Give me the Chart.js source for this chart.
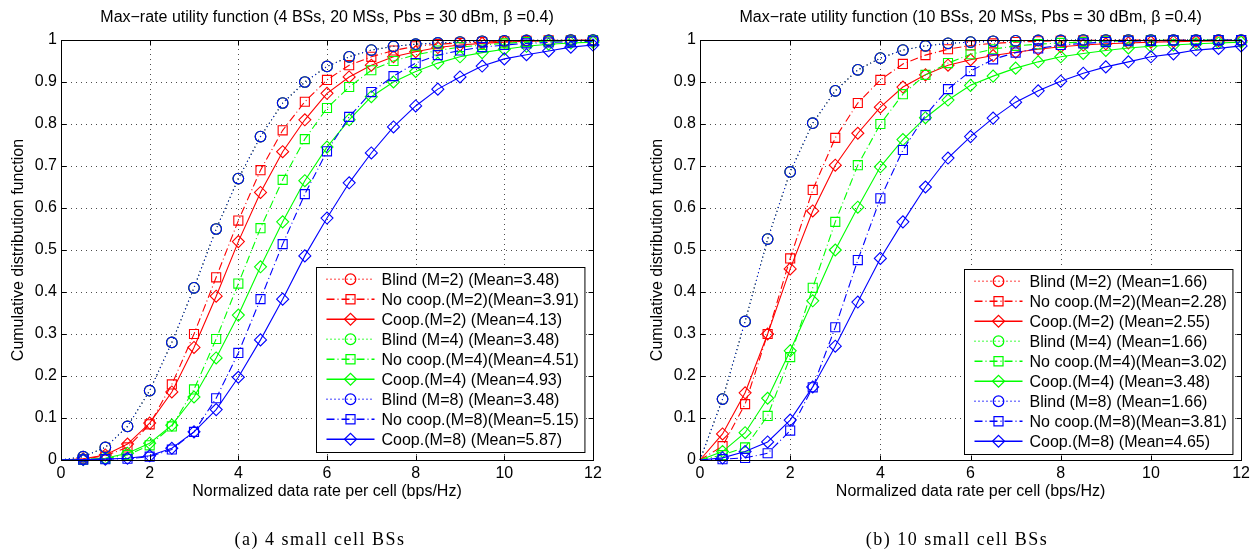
<!DOCTYPE html>
<html>
<head>
<meta charset="utf-8">
<script src="https://cdn.jsdelivr.net/npm/chart.js@4.4.1/dist/chart.umd.min.js"></script>
<style>
  body { margin: 0; background: #fff; width: 1254px; height: 552px; overflow: hidden; position: relative; }
  .panel { position: absolute; top: 0; width: 627px; height: 552px; }
</style>
</head>
<body>
<div class="panel" style="left:0"><canvas id="chartA" width="627" height="552"></canvas></div>
<div class="panel" style="left:627px"><canvas id="chartB" width="627" height="552"></canvas></div>
<script>
// normalized data rate (bps/Hz), one sample every 0.5
const rates = [0, 0.5, 1, 1.5, 2, 2.5, 3, 3.5, 4, 4.5, 5, 5.5, 6, 6.5, 7, 7.5, 8, 8.5, 9, 9.5, 10, 10.5, 11, 11.5, 12];
const xTickValues = [0, 2, 4, 6, 8, 10, 12];
const yTickValues = [0, 0.1, 0.2, 0.3, 0.4, 0.5, 0.6, 0.7, 0.8, 0.9, 1];

// (a) 4 small cell BSs
const blind_4    = [0, 0.008, 0.03, 0.08, 0.165, 0.28, 0.41, 0.55, 0.67, 0.77, 0.85, 0.90, 0.937, 0.96, 0.976, 0.985, 0.99, 0.993, 0.995, 0.997, 0.998, 0.999, 0.999, 1, 1];
const noCoopM2_4 = [0, 0.002, 0.01, 0.03, 0.085, 0.18, 0.30, 0.435, 0.57, 0.69, 0.785, 0.853, 0.905, 0.94, 0.96, 0.975, 0.985, 0.99, 0.993, 0.995, 0.997, 0.998, 0.999, 0.999, 1];
const coopM2_4   = [0, 0.003, 0.012, 0.038, 0.088, 0.162, 0.268, 0.39, 0.52, 0.637, 0.734, 0.81, 0.873, 0.912, 0.94, 0.96, 0.972, 0.982, 0.988, 0.992, 0.995, 0.997, 0.998, 0.999, 0.999];
const noCoopM4_4 = [0, 0.001, 0.003, 0.012, 0.035, 0.08, 0.168, 0.288, 0.42, 0.552, 0.667, 0.764, 0.838, 0.888, 0.928, 0.95, 0.965, 0.975, 0.983, 0.988, 0.992, 0.995, 0.997, 0.998, 0.999];
const coopM4_4   = [0, 0.001, 0.004, 0.016, 0.04, 0.083, 0.15, 0.243, 0.345, 0.46, 0.567, 0.665, 0.745, 0.81, 0.865, 0.90, 0.925, 0.945, 0.96, 0.97, 0.978, 0.985, 0.99, 0.993, 0.995];
const noCoopM8_4 = [0, 0.001, 0.002, 0.003, 0.008, 0.025, 0.067, 0.147, 0.255, 0.383, 0.514, 0.633, 0.735, 0.817, 0.876, 0.914, 0.945, 0.964, 0.975, 0.983, 0.988, 0.992, 0.994, 0.996, 0.997];
const coopM8_4   = [0, 0.001, 0.002, 0.004, 0.01, 0.028, 0.067, 0.12, 0.197, 0.286, 0.383, 0.486, 0.576, 0.66, 0.731, 0.793, 0.843, 0.883, 0.912, 0.938, 0.955, 0.965, 0.974, 0.983, 0.988];
const labels_4 = [
  'Blind (M=2) (Mean=3.48)', 'No coop.(M=2)(Mean=3.91)', 'Coop.(M=2) (Mean=4.13)',
  'Blind (M=4) (Mean=3.48)', 'No coop.(M=4)(Mean=4.51)', 'Coop.(M=4) (Mean=4.93)',
  'Blind (M=8) (Mean=3.48)', 'No coop.(M=8)(Mean=5.15)', 'Coop.(M=8) (Mean=5.87)'
];

// (b) 10 small cell BSs
const blind_10    = [0, 0.145, 0.33, 0.526, 0.686, 0.802, 0.879, 0.929, 0.957, 0.976, 0.986, 0.992, 0.995, 0.997, 0.998, 0.999, 0.999, 1, 1, 1, 1, 1, 1, 1, 1];
const noCoopM2_10 = [0, 0.033, 0.133, 0.30, 0.48, 0.643, 0.767, 0.85, 0.905, 0.943, 0.964, 0.978, 0.987, 0.992, 0.995, 0.997, 0.998, 0.999, 0.999, 1, 1, 1, 1, 1, 1];
const coopM2_10   = [0, 0.062, 0.16, 0.30, 0.455, 0.593, 0.702, 0.778, 0.84, 0.888, 0.917, 0.94, 0.953, 0.963, 0.971, 0.978, 0.984, 0.988, 0.991, 0.993, 0.995, 0.996, 0.997, 0.998, 0.999];
const noCoopM4_10 = [0, 0.012, 0.03, 0.105, 0.245, 0.41, 0.567, 0.702, 0.80, 0.871, 0.917, 0.945, 0.966, 0.978, 0.986, 0.99, 0.993, 0.995, 0.997, 0.998, 0.999, 0.999, 1, 1, 1];
const coopM4_10   = [0, 0.02, 0.065, 0.147, 0.26, 0.379, 0.50, 0.602, 0.698, 0.763, 0.815, 0.857, 0.892, 0.914, 0.933, 0.948, 0.96, 0.968, 0.975, 0.981, 0.985, 0.988, 0.991, 0.993, 0.995];
const noCoopM8_10 = [0, 0.002, 0.005, 0.016, 0.07, 0.173, 0.316, 0.476, 0.623, 0.738, 0.821, 0.883, 0.926, 0.954, 0.97, 0.98, 0.988, 0.992, 0.995, 0.997, 0.998, 0.999, 0.999, 1, 1];
const coopM8_10   = [0, 0.005, 0.02, 0.043, 0.095, 0.174, 0.271, 0.376, 0.48, 0.567, 0.65, 0.719, 0.77, 0.814, 0.852, 0.879, 0.902, 0.921, 0.936, 0.948, 0.96, 0.967, 0.976, 0.98, 0.986];
const labels_10 = [
  'Blind (M=2) (Mean=1.66)', 'No coop.(M=2)(Mean=2.28)', 'Coop.(M=2) (Mean=2.55)',
  'Blind (M=4) (Mean=1.66)', 'No coop.(M=4)(Mean=3.02)', 'Coop.(M=4) (Mean=3.48)',
  'Blind (M=8) (Mean=1.66)', 'No coop.(M=8)(Mean=3.81)', 'Coop.(M=8) (Mean=4.65)'
];

const FONT = '"Liberation Sans", Arial, Helvetica, sans-serif';
const colors = ['#ff0000', '#00ff00', '#0000ff'];
// blind = dotted + circle, no coop = dash-dot + square, coop = solid + diamond
const styles = [
  { dash: [1, 3], point: 'circle', radius: 5.3 },
  { dash: [8, 3, 1, 3], point: 'rect', radius: 6.4 },
  { dash: [], point: 'rectRot', radius: 6 }
];

function buildDatasets(series, labels) {
  return series.map((vals, i) => {
    const st = styles[i % 3];
    const col = colors[Math.floor(i / 3)];
    return {
      label: labels[i],
      data: rates.map((x, k) => ({ x: x, y: vals[k] })),
      borderColor: col,
      borderWidth: 1.1,
      borderDash: st.dash,
      pointStyle: st.point,
      pointRadius: ctx => (ctx.dataIndex === 0 ? 0 : st.radius),
      pointBorderColor: col,
      pointBackgroundColor: 'rgba(0,0,0,0)',
      pointBorderWidth: 1.1,
      tension: 0,
      clip: false,
      order: series.length - i   // later series on top, like matlab
    };
  });
}

function drawMarker(ctx, style, x, y) {
  ctx.beginPath();
  if (style.point === 'circle') {
    ctx.arc(x, y, style.radius, 0, Math.PI * 2);
  } else if (style.point === 'rect') {
    const s = style.radius * Math.SQRT1_2;
    ctx.rect(x - s, y - s, 2 * s, 2 * s);
  } else {
    const r = style.radius;
    ctx.moveTo(x - r, y); ctx.lineTo(x, y - r); ctx.lineTo(x + r, y); ctx.lineTo(x, y + r); ctx.closePath();
  }
  ctx.stroke();
}

const matlabAxes = {
  id: 'matlabAxes',
  beforeDatasetsDraw(chart) {
    const { ctx, chartArea: a, scales } = chart;
    ctx.save();
    ctx.strokeStyle = 'rgba(0,0,0,0.7)';
    ctx.lineWidth = 1;
    ctx.setLineDash([1, 4]);
    xTickValues.forEach(v => {
      const px = Math.round(scales.x.getPixelForValue(v)) + 0.5;
      ctx.beginPath(); ctx.moveTo(px, a.bottom); ctx.lineTo(px, a.top); ctx.stroke();
    });
    yTickValues.forEach(v => {
      const py = Math.round(scales.y.getPixelForValue(v)) + 0.5;
      ctx.beginPath(); ctx.moveTo(a.left, py); ctx.lineTo(a.right, py); ctx.stroke();
    });
    ctx.restore();
  },
  afterDatasetsDraw(chart) {
    const { ctx, chartArea: a, scales } = chart;
    const L = Math.round(a.left) + 0.5, R = Math.round(a.right) + 0.5;
    const T = Math.round(a.top) + 0.5, B = Math.round(a.bottom) + 0.5;
    ctx.save();
    ctx.strokeStyle = '#000';
    ctx.lineWidth = 1;
    ctx.setLineDash([]);
    ctx.strokeRect(L, T, R - L, B - T);
    ctx.beginPath();
    xTickValues.forEach(v => {
      const px = Math.round(scales.x.getPixelForValue(v)) + 0.5;
      ctx.moveTo(px, B); ctx.lineTo(px, B - 5);
      ctx.moveTo(px, T); ctx.lineTo(px, T + 5);
    });
    yTickValues.forEach(v => {
      const py = Math.round(scales.y.getPixelForValue(v)) + 0.5;
      ctx.moveTo(L, py); ctx.lineTo(L + 5, py);
      ctx.moveTo(R, py); ctx.lineTo(R - 5, py);
    });
    ctx.stroke();
    ctx.restore();
  },
  afterDraw(chart, args, opts) {
    const { ctx, chartArea: a } = chart;
    const cx = (a.left + a.right) / 2;
    ctx.save();
    ctx.fillStyle = '#000';
    ctx.textAlign = 'center';
    ctx.textBaseline = 'middle';
    ctx.font = '16px ' + FONT;
    ctx.fillText(opts.title, cx, 18);
    ctx.fillText('Normalized data rate per cell (bps/Hz)', cx, 492);
    ctx.save();
    ctx.translate(opts.yTitleX, (a.top + a.bottom) / 2);
    ctx.rotate(-Math.PI / 2);
    ctx.fillText('Cumulative distribution function', 0, 0);
    ctx.restore();

    // caption under the sub figure
    ctx.font = '18px "Liberation Serif", "Times New Roman", serif';
    ctx.letterSpacing = '1.5px';
    ctx.fillText(opts.caption, opts.captionX, 540);
    ctx.letterSpacing = '0px';

    // legend box, matlab style
    ctx.font = '16px ' + FONT;
    const sets = chart.data.datasets;
    const maxW = Math.max(...sets.map(d => ctx.measureText(d.label).width));
    const w = 65 + maxW + 6, h = 185;
    const x0 = Math.round(a.right - opts.legendRight - w) + 0.5;
    const y0 = Math.round(a.bottom - opts.legendBottom - h) + 0.5;
    ctx.fillStyle = '#fff';
    ctx.fillRect(x0, y0, w, h);
    ctx.strokeStyle = '#000';
    ctx.lineWidth = 1;
    ctx.setLineDash([]);
    ctx.strokeRect(x0, y0, w, h);
    ctx.textAlign = 'left';
    sets.forEach((d, i) => {
      const st = styles[i % 3];
      const col = colors[Math.floor(i / 3)];
      const ry = y0 + 11.75 + i * 20;
      ctx.strokeStyle = col;
      ctx.lineWidth = 1.3;
      ctx.setLineDash(st.dash.length ? st.dash : []);
      ctx.beginPath(); ctx.moveTo(x0 + 10, ry); ctx.lineTo(x0 + 58, ry); ctx.stroke();
      ctx.setLineDash([]);
      ctx.lineWidth = 1.2;
      drawMarker(ctx, st, x0 + 34, ry);
      ctx.fillStyle = '#000';
      ctx.fillText(d.label, x0 + 65, ry + 1);
    });
    ctx.restore();
  }
};

function makeChart(id, series, labels, opts) {
  return new Chart(document.getElementById(id), {
    type: 'line',
    data: { datasets: buildDatasets(series, labels) },
    options: {
      responsive: false,
      animation: false,
      events: [],
      layout: { padding: { top: 40, left: 0, right: opts.padRight, bottom: 0 } },
      plugins: {
        legend: { display: false },
        tooltip: { enabled: false },
        matlabAxes: opts
      },
      scales: {
        x: {
          type: 'linear', min: 0, max: 12,
          afterBuildTicks: s => { s.ticks = xTickValues.map(v => ({ value: v })); },
          afterFit: s => { s.height = 92; },
          grid: { display: false, drawTicks: false },
          border: { display: false },
          ticks: { color: '#000', font: { size: 16, family: FONT }, padding: 4, maxRotation: 0, autoSkip: false }
        },
        y: {
          type: 'linear', min: 0, max: 1,
          afterBuildTicks: s => { s.ticks = yTickValues.map(v => ({ value: v })); },
          afterFit: s => { s.width = opts.yWidth; },
          grid: { display: false, drawTicks: false },
          border: { display: false },
          ticks: { color: '#000', font: { size: 16, family: FONT }, padding: 4, autoSkip: false, callback: v => String(v) }
        }
      }
    },
    plugins: [matlabAxes]
  });
}

makeChart('chartA',
  [blind_4, noCoopM2_4, coopM2_4, blind_4, noCoopM4_4, coopM4_4, blind_4, noCoopM8_4, coopM8_4],
  labels_4,
  { title: 'Max\u2212rate utility function (4 BSs, 20 MSs, Pbs = 30 dBm, \u03b2 =0.4)',
    caption: '(a) 4 small cell BSs', captionX: 320, yTitleX: 19,
    yWidth: 61, padRight: 34, legendRight: 9, legendBottom: 8 });

makeChart('chartB',
  [blind_10, noCoopM2_10, coopM2_10, blind_10, noCoopM4_10, coopM4_10, blind_10, noCoopM8_10, coopM8_10],
  labels_10,
  { title: 'Max\u2212rate utility function (10 BSs, 20 MSs, Pbs = 30 dBm, \u03b2 =0.4)',
    caption: '(b) 10 small cell BSs', captionX: 330, yTitleX: 31,
    yWidth: 73, padRight: 11, legendRight: 9, legendBottom: 6 });
</script>
</body>
</html>
